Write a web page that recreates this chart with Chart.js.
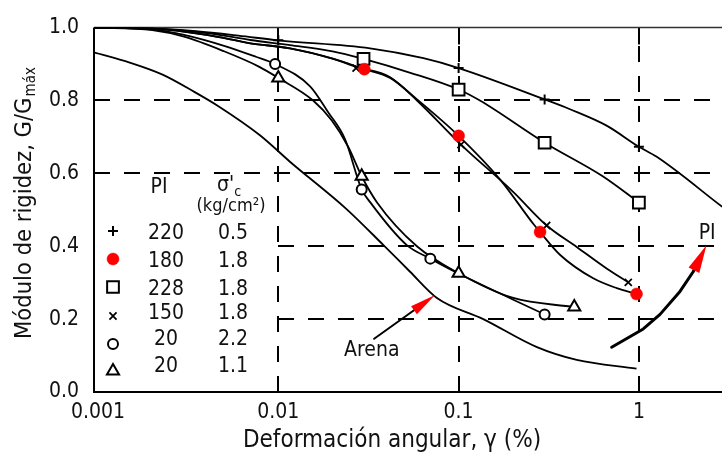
<!DOCTYPE html>
<html>
<head>
<meta charset="utf-8">
<script src="https://cdn.jsdelivr.net/npm/chart.js@4/dist/chart.umd.min.js"></script>
<style>
html,body{margin:0;padding:0;background:#fff;overflow:hidden}
#wrap{width:722px;height:460px;position:relative}
</style>
</head>
<body>
<div id="wrap"><canvas id="c" width="722" height="460"></canvas></div>
<script>
// ---------- axes ----------
const X_TICKS = [0.001, 0.01, 0.1, 1];
const X_TICK_LABELS = ['0.001', '0.01', '0.1', '1'];
const Y_TICKS = [0, 0.2, 0.4, 0.6, 0.8, 1.0];
const Y_TICK_LABELS = ['0.0', '0.2', '0.4', '0.6', '0.8', '1.0'];
const X_GRID = [0.01, 0.1, 1];
const Y_GRID = [0.2, 0.4, 0.6, 0.8];
const Y_GRID_FROM = [0.01, 0.01, 0.00095, 0.00095];
const X_MIN = 0.00095, X_MAX = 2.89;
const X_TITLE = 'Deformación angular, γ (%)';
const Y_TITLE = 'Módulo de rigidez, G/G';
const Y_TITLE_SUB = 'máx';

// ---------- series: [strain %, G/Gmax] ----------
// PI 220, σ'c 0.5  (+)
const pi220Curve = [[0.00095,1.0],[0.002,0.998],[0.0035,0.99],[0.006,0.978],[0.01,0.965],[0.0323,0.943],[0.0638,0.916],[0.1,0.889],[0.3,0.803],[0.415,0.776],[0.662,0.731],[1.0,0.673],[1.25,0.646],[2.9,0.508]];
const pi220Marks = [[0.01,0.965],[0.1,0.889],[0.3,0.803],[1.0,0.673]];
// PI 180, σ'c 1.8  (red dot)
const pi180Curve = [[0.00095,1.0],[0.002,0.997],[0.004,0.98],[0.007,0.957],[0.0116,0.943],[0.02,0.915],[0.03,0.886],[0.0417,0.862],[0.0588,0.803],[0.1,0.703],[0.17,0.583],[0.26,0.461],[0.283,0.439],[0.366,0.376],[0.558,0.312],[0.753,0.285],[0.97,0.269]];
const pi180Marks = [[0.03,0.886],[0.1,0.703],[0.283,0.439],[0.97,0.269]];
// PI 228, σ'c 1.8  (square)
const pi228Curve = [[0.00095,1.0],[0.002,0.997],[0.004,0.985],[0.007,0.966],[0.0116,0.952],[0.02,0.935],[0.0297,0.914],[0.054,0.876],[0.1,0.83],[0.132,0.799],[0.3,0.684],[0.63,0.592],[1.0,0.52]];
const pi228Marks = [[0.0297,0.914],[0.1,0.83],[0.3,0.684],[1.0,0.52]];
// PI 150, σ'c 1.8  (x)
const pi150Curve = [[0.00095,1.0],[0.002,0.997],[0.004,0.98],[0.007,0.957],[0.0116,0.943],[0.02,0.915],[0.027,0.892],[0.0417,0.864],[0.0588,0.80],[0.103,0.679],[0.2,0.55],[0.308,0.457],[0.452,0.398],[0.662,0.339],[0.873,0.301]];
const pi150Marks = [[0.027,0.889],[0.103,0.679],[0.308,0.457],[0.873,0.301]];
// PI 20, σ'c 2.2  (circle)
const pi20aCurve = [[0.00095,1.0],[0.002,0.995],[0.003,0.98],[0.005,0.95],[0.0075,0.92],[0.0096,0.9],[0.015,0.839],[0.0189,0.768],[0.0234,0.695],[0.029,0.556],[0.0323,0.521],[0.0516,0.403],[0.0697,0.366],[0.1,0.325],[0.3,0.213]];
const pi20aMarks = [[0.0096,0.9],[0.029,0.556],[0.0697,0.366],[0.3,0.213]];
// PI 20, σ'c 1.1  (triangle)
const pi20bCurve = [[0.00095,1.0],[0.002,0.993],[0.003,0.975],[0.005,0.935],[0.0078,0.893],[0.01,0.862],[0.0156,0.80],[0.0198,0.745],[0.0244,0.673],[0.029,0.592],[0.0352,0.521],[0.0587,0.40],[0.1,0.326],[0.201,0.258],[0.438,0.233]];
const pi20bMarks = [[0.01,0.862],[0.029,0.592],[0.1,0.326],[0.438,0.233]];
// Arena (sand), no markers
const arenaCurve = [[0.00095,0.932],[0.0015,0.904],[0.00228,0.871],[0.00344,0.823],[0.00463,0.785],[0.00794,0.704],[0.0116,0.632],[0.0239,0.502],[0.0383,0.403],[0.0538,0.33],[0.0758,0.258],[0.137,0.20],[0.272,0.123],[0.452,0.088],[0.97,0.064]];

// ---------- legend table ----------
const LEG_HEAD_PI = 'PI';
const LEG_HEAD_SIG = "σ'";
const LEG_HEAD_SIG_SUB = 'c';
const LEG_HEAD_UNIT = '(kg/cm²)';
const LEG_PI = ['220', '180', '228', '150', '20', '20'];
const LEG_SIG = ['0.5', '1.8', '1.8', '1.8', '2.2', '1.1'];

// ---------- annotations (data coordinates) ----------
const ARENA_LABEL = 'Arena';
const ARENA_TEXT_AT = [0.033, 0.114];
const ARENA_ARROW = [[0.034, 0.146], [0.0741, 0.266]];
const PI_LABEL = 'PI';
const PI_TEXT_AT = [2.39, 0.435];
const PI_ARROW = [[0.706, 0.123], [1.057, 0.173], [1.31, 0.213], [1.69, 0.276], [2.0, 0.33], [2.37, 0.403]];

// ---------- styles ----------
const FONT = "'DejaVu Sans Condensed', 'DejaVu Sans', sans-serif";
const TXT = '#111';
const RED = '#ff0000';
const MARKS = [
  {curve: pi220Curve, marks: pi220Marks, style: 'cross',    r: 5,   fill: '#000', stroke: '#000', bw: 2},
  {curve: pi180Curve, marks: pi180Marks, style: 'circle',   r: 6,   fill: RED,    stroke: RED,    bw: 0.5},
  {curve: pi228Curve, marks: pi228Marks, style: 'rect',     r: 8.3, fill: '#fff', stroke: '#000', bw: 2},
  {curve: pi150Curve, marks: pi150Marks, style: 'crossRot', r: 5,   fill: '#000', stroke: '#000', bw: 1.8},
  {curve: pi20aCurve, marks: pi20aMarks, style: 'circle',   r: 5,   fill: '#fff', stroke: '#000', bw: 2},
  {curve: pi20bCurve, marks: pi20bMarks, style: 'triangle', r: 7,   fill: '#fff', stroke: '#000', bw: 2}
];

const pts = arr => arr.map(([x, y]) => ({x, y}));
const datasets = [];
MARKS.forEach(s => {
  datasets.push({
    data: pts(s.marks), showLine: false, order: 0,
    pointStyle: s.style, pointRadius: s.r, pointHoverRadius: s.r,
    pointBackgroundColor: s.fill, pointBorderColor: s.stroke, pointBorderWidth: s.bw
  });
});
MARKS.concat([{curve: arenaCurve}]).forEach(s => {
  datasets.push({
    data: pts(s.curve), showLine: true, order: 2, pointRadius: 0, pointHoverRadius: 0,
    borderColor: '#000', borderWidth: 1.8, fill: false, cubicInterpolationMode: 'monotone'
  });
});

function drawMarker(ctx, s, x, y) {
  ctx.save();
  ctx.fillStyle = s.fill; ctx.strokeStyle = s.stroke; ctx.lineWidth = s.bw;
  Chart.helpers.drawPoint(ctx, {pointStyle: s.style, radius: s.r, rotation: 0, borderWidth: s.bw}, x, y);
  ctx.restore();
}

function arrow(ctx, chart, path, headLen, headHalf, lw) {
  const {x, y} = chart.scales;
  const P = path.map(([a, b]) => [x.getPixelForValue(a), y.getPixelForValue(b)]);
  const tip = P[P.length - 1];
  const prev = P[P.length - 2];
  const dx = tip[0] - prev[0], dy = tip[1] - prev[1];
  const len = Math.hypot(dx, dy), ux = dx / len, uy = dy / len;
  const bx = tip[0] - ux * headLen, by = tip[1] - uy * headLen;
  ctx.save();
  ctx.strokeStyle = '#000'; ctx.lineWidth = lw; ctx.lineCap = 'round'; ctx.lineJoin = 'round';
  ctx.beginPath();
  ctx.moveTo(P[0][0], P[0][1]);
  for (let i = 1; i < P.length - 1; i++) ctx.lineTo(P[i][0], P[i][1]);
  ctx.lineTo(bx + ux * 3, by + uy * 3);
  ctx.stroke();
  ctx.fillStyle = RED;
  ctx.beginPath();
  ctx.moveTo(tip[0], tip[1]);
  ctx.lineTo(bx - uy * headHalf, by + ux * headHalf);
  ctx.lineTo(bx + uy * headHalf, by - ux * headHalf);
  ctx.closePath();
  ctx.fill();
  ctx.restore();
}

const refPlugin = {
  id: 'ref',
  beforeDatasetsDraw(chart) {
    const {ctx, chartArea: a, scales: {x, y}} = chart;
    ctx.save();
    ctx.strokeStyle = '#000';
    ctx.lineWidth = 2;
    ctx.setLineDash([16, 14]);
    Y_GRID.forEach((v, i) => {
      const py = Math.round(y.getPixelForValue(v));
      const px0 = Math.round(x.getPixelForValue(Y_GRID_FROM[i]));
      ctx.beginPath(); ctx.moveTo(px0, py); ctx.lineTo(a.right, py); ctx.stroke();
    });
    X_GRID.forEach(v => {
      const px = Math.round(x.getPixelForValue(v));
      ctx.beginPath(); ctx.moveTo(px, a.bottom); ctx.lineTo(px, a.top); ctx.stroke();
    });
    ctx.setLineDash([]);
    // inward ticks
    X_GRID.forEach(v => {
      const px = Math.round(x.getPixelForValue(v));
      ctx.beginPath(); ctx.moveTo(px, a.bottom); ctx.lineTo(px, a.bottom - 16);
      ctx.moveTo(px, a.top); ctx.lineTo(px, a.top + 17); ctx.stroke();
    });
    Y_GRID.forEach((v, i) => {
      const py = Math.round(y.getPixelForValue(v));
      const px0 = Math.round(x.getPixelForValue(Y_GRID_FROM[i]));
      ctx.beginPath(); ctx.moveTo(px0, py); ctx.lineTo(px0 + 12, py); ctx.stroke();
    });
    // frame
    ctx.beginPath();
    ctx.moveTo(a.left, a.top); ctx.lineTo(a.left, a.bottom); ctx.lineTo(a.right, a.bottom);
    ctx.stroke();
    ctx.lineWidth = 1.5; ctx.strokeStyle = '#333';
    ctx.beginPath(); ctx.moveTo(a.left, a.top); ctx.lineTo(a.right, a.top); ctx.stroke();
    ctx.restore();
  },
  afterDraw(chart) {
    const {ctx, scales: {x, y}} = chart;
    ctx.save();
    ctx.fillStyle = TXT;
    // axis titles
    ctx.textAlign = 'center'; ctx.textBaseline = 'middle';
    ctx.font = `24px ${FONT}`;
    ctx.fillText(X_TITLE, 392, 441);
    ctx.save();
    ctx.translate(23, 203); ctx.rotate(-Math.PI / 2);
    ctx.textAlign = 'left'; ctx.textBaseline = 'alphabetic';
    ctx.font = `23.5px ${FONT}`;
    const w1 = ctx.measureText(Y_TITLE).width;
    ctx.font = `15px ${FONT}`;
    const w2 = ctx.measureText(Y_TITLE_SUB).width;
    const sx = -(w1 + w2 + 1) / 2;
    ctx.font = `23.5px ${FONT}`; ctx.fillText(Y_TITLE, sx, 8);
    ctx.font = `15px ${FONT}`; ctx.fillText(Y_TITLE_SUB, sx + w1 + 1, 12);
    ctx.restore();

    // legend table
    ctx.textAlign = 'center'; ctx.textBaseline = 'middle';
    ctx.font = `21px ${FONT}`;
    ctx.fillText(LEG_HEAD_PI, 159, 188);
    ctx.textAlign = 'left';
    const sw = ctx.measureText(LEG_HEAD_SIG).width;
    ctx.fillText(LEG_HEAD_SIG, 217, 186);
    ctx.font = `14px ${FONT}`;
    ctx.fillText(LEG_HEAD_SIG_SUB, 217 + sw, 192);
    ctx.textAlign = 'center';
    ctx.font = `18px ${FONT}`;
    ctx.fillText(LEG_HEAD_UNIT, 231, 206);
    const rowY = [231, 259, 287, 316, 344, 371];
    ctx.font = `21px ${FONT}`;
    LEG_PI.forEach((t, i) => {
      const ty = rowY[i] + (i < 3 ? 3 : (i === 3 ? -2 : -4));
      ctx.fillStyle = TXT;
      ctx.fillText(t, 166, ty);
      ctx.fillText(LEG_SIG[i], 233, ty);
      drawMarker(ctx, MARKS[i], 113, rowY[i]);
    });

    // annotations
    arrow(ctx, chart, ARENA_ARROW, 26, 5, 2);
    arrow(ctx, chart, PI_ARROW, 28, 6, 3);
    ctx.fillStyle = TXT;
    ctx.font = `21px ${FONT}`;
    ctx.textAlign = 'center'; ctx.textBaseline = 'middle';
    ctx.fillText(ARENA_LABEL, x.getPixelForValue(ARENA_TEXT_AT[0]), y.getPixelForValue(ARENA_TEXT_AT[1]));
    ctx.fillText(PI_LABEL, x.getPixelForValue(PI_TEXT_AT[0]), y.getPixelForValue(PI_TEXT_AT[1]));
    ctx.restore();
  }
};

new Chart(document.getElementById('c'), {
  type: 'scatter',
  data: {datasets},
  plugins: [refPlugin],
  options: {
    responsive: false, animation: false, devicePixelRatio: 1,
    layout: {autoPadding: false, padding: {top: 22, right: 0, left: 0, bottom: 0}},
    plugins: {legend: {display: false}, tooltip: {enabled: false}},
    events: [],
    scales: {
      x: {
        type: 'logarithmic', min: X_MIN, max: X_MAX,
        grid: {display: false, drawTicks: false}, border: {display: false},
        afterBuildTicks: s => { s.ticks = X_TICKS.map(v => ({value: v})); },
        ticks: {autoSkip: false, maxRotation: 0, padding: 8, color: TXT,
          font: {family: FONT, size: 21},
          callback: (v, i) => X_TICK_LABELS[i]},
        afterFit: s => { s.height = 68; }
      },
      y: {
        min: 0, max: 1,
        grid: {display: false, drawTicks: false}, border: {display: false},
        afterBuildTicks: s => { s.ticks = Y_TICKS.map(v => ({value: v})); },
        ticks: {autoSkip: false, padding: 15, color: TXT,
          font: {family: FONT, size: 21},
          callback: (v, i) => Y_TICK_LABELS[i]},
        afterFit: s => { s.width = 94; }
      }
    }
  }
});
</script>
</body>
</html>
